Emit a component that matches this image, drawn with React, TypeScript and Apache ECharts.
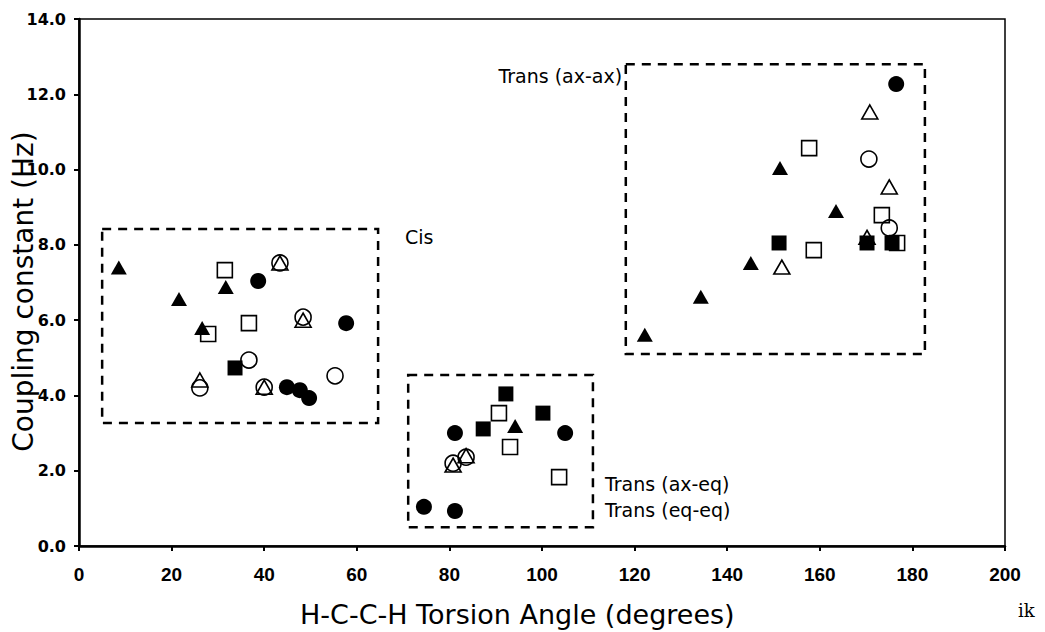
import React, { useEffect, useRef } from "react";
import * as echarts from "echarts";

// Data: [torsion angle (deg), coupling constant (Hz)]
const filledTriangle: [number, number][] = [
  [8.6, 7.4], [21.6, 6.56], [31.7, 6.88], [26.6, 5.79], [94.2, 3.19],
  [151.4, 10.04], [163.5, 8.9], [145.1, 7.52], [134.3, 6.62], [122.2, 5.61],
];
const filledCircle: [number, number][] = [
  [38.7, 7.04], [57.7, 5.92], [44.9, 4.22], [47.7, 4.14], [49.7, 3.93],
  [81.2, 3.0], [105.0, 3.0], [74.5, 1.04], [81.2, 0.93], [176.5, 12.27],
];
const filledSquare: [number, number][] = [
  [33.7, 4.73], [92.2, 4.04], [100.2, 3.53], [87.3, 3.11],
  [151.2, 8.05], [170.2, 8.05], [175.6, 8.05],
];
const openSquare: [number, number][] = [
  [31.5, 7.33], [36.7, 5.92], [27.9, 5.63], [90.7, 3.53], [93.1, 2.63],
  [103.7, 1.83], [157.7, 10.57], [173.4, 8.79], [158.7, 7.86], [176.7, 8.05],
];
const openCircle: [number, number][] = [
  [43.4, 7.52], [48.4, 6.08], [36.7, 4.94], [26.1, 4.2], [40.0, 4.22],
  [55.3, 4.52], [83.6, 2.36], [80.8, 2.2], [170.6, 10.28], [175.0, 8.45],
];
const openTriangle: [number, number][] = [
  [43.4, 7.52], [48.4, 6.0], [26.1, 4.41], [40.0, 4.22], [83.6, 2.4],
  [80.8, 2.15], [170.8, 11.53], [175.0, 9.54], [151.8, 7.41], [170.2, 8.2],
];

// Dashed region boxes: [[x1, y1], [x2, y2]]
const regionBoxes: [[number, number], [number, number]][] = [
  [[5.0, 8.42], [64.6, 3.27]],
  [[71.1, 4.54], [111.0, 0.5]],
  [[118.1, 12.8], [182.7, 5.1]],
];

// Region labels: [x, y, text, align]
const regionLabels: [number, number, string, string][] = [
  [70.4, 8.21, "Cis", "left"],
  [117.3, 12.49, "Trans (ax-ax)", "right"],
  [113.6, 1.64, "Trans (ax-eq)", "left"],
  [113.6, 0.96, "Trans (eq-eq)", "left"],
];

const xTicks = { min: 0, max: 200, interval: 20 };
const yTicks = { min: 0, max: 14, interval: 2 };

const SANS = "DejaVu Sans, sans-serif";
const ARIAL = "Liberation Sans, Arial, sans-serif";

export default function App() {
  const ref = useRef<HTMLDivElement>(null);
  useEffect(() => {
    if (!ref.current) return;
    const chart = echarts.init(ref.current, null, { renderer: "svg" });
    const openStyle = { color: "none", borderColor: "#000", borderWidth: 1.6, opacity: 1 };
    const filledStyle = { color: "#000", opacity: 1 };
    const mk = (name: string, data: [number, number][], symbol: string, style: any, size: any) => ({
      name,
      type: "scatter",
      data,
      symbol,
      symbolSize: size,
      itemStyle: style,
      silent: true,
    });
    chart.setOption({
      animation: false,
      backgroundColor: "#fff",
      grid: {
        left: 79, right: 40, top: 19, bottom: 86,
        show: true, borderColor: "#000", borderWidth: 1.5, backgroundColor: "transparent",
      },
      xAxis: {
        type: "value",
        ...xTicks,
        axisLine: { show: true, lineStyle: { color: "#000", width: 2.5 } },
        axisTick: { show: true, length: 5, lineStyle: { color: "#000", width: 2 } },
        axisLabel: { color: "#000", fontSize: 19, fontFamily: ARIAL, fontWeight: "bold", margin: 19 },
        splitLine: { show: false },
      },
      yAxis: {
        type: "value",
        ...yTicks,
        axisLine: { show: true, lineStyle: { color: "#000", width: 2.5 } },
        axisTick: { show: true, length: 5, lineStyle: { color: "#000", width: 2 } },
        axisLabel: {
          color: "#000", fontSize: 16, fontFamily: SANS, fontWeight: "bold", margin: 13,
          formatter: (v: number) => v.toFixed(1),
        },
        splitLine: { show: false },
      },
      graphic: [
        {
          type: "text", x: 300, y: 614,
          style: {
            text: "H-C-C-H Torsion Angle (degrees)", fontSize: 27, fontFamily: SANS, fill: "#000",
            verticalAlign: "middle", align: "left",
          },
        },
        {
          type: "text", x: 23.5, y: 291.5, rotation: Math.PI / 2,
          style: {
            text: "Coupling constant (Hz)", fontSize: 28, fontFamily: SANS, fill: "#000",
            verticalAlign: "middle", align: "center",
          },
        },
        {
          type: "text", x: 1018, y: 610,
          style: { text: "ik", fontSize: 18, fontFamily: "DejaVu Serif, serif", fill: "#000", verticalAlign: "middle" },
        },
      ],
      series: [
        {
          type: "scatter",
          data: [],
          silent: true,
          markArea: {
            silent: true,
            itemStyle: { color: "transparent", borderColor: "#000", borderWidth: 2.5, borderType: [9, 7] },
            data: regionBoxes.map(([a, b]) => [{ coord: a }, { coord: b }]),
          },
        },
        mk("open circle", openCircle, "circle", openStyle, 16),
        mk("open square", openSquare, "rect", openStyle, 15),
        mk("open triangle", openTriangle, "triangle", openStyle, [16, 14]),
        mk("filled circle", filledCircle, "circle", filledStyle, 16),
        mk("filled square", filledSquare, "rect", filledStyle, 15),
        mk("filled triangle", filledTriangle, "triangle", filledStyle, [16, 14]),
        {
          type: "scatter",
          silent: true,
          symbolSize: 0,
          clip: false,
          data: regionLabels.map(([x, y, t, a]) => ({
            value: [x, y],
            label: {
              show: true, formatter: t, position: "inside", align: a, verticalAlign: "middle",
              color: "#000", fontSize: 19, fontFamily: SANS, textBorderWidth: 0, opacity: 1,
            },
          })),
        },
      ],
    });
    return () => chart.dispose();
  }, []);
  return <div ref={ref} style={{ position: "fixed", left: 0, top: 0, width: 1045, height: 632, background: "#fff" }} />;
}
